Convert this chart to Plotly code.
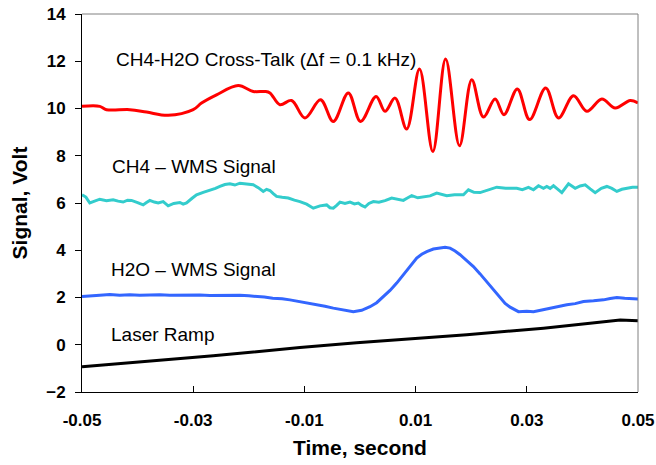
import plotly.graph_objects as go

# ---- data ----
red_x = [-0.05, -0.0468, -0.0456, -0.0414, -0.0384, -0.0345, -0.0300, -0.0285, -0.0258,
         -0.0219, -0.0192, -0.0171, -0.0162, -0.0144, -0.0123, -0.0099, -0.0071, -0.0048,
         -0.0021, 0.0001, 0.0029, 0.0045, 0.0063, 0.0084, 0.0107, 0.0131, 0.0154, 0.0179,
         0.0201, 0.0222, 0.0243, 0.0259, 0.0283, 0.0305, 0.0334, 0.0357, 0.0384, 0.0408,
         0.0435, 0.0459, 0.0486, 0.05]
red_y = [10.09, 10.09, 9.95, 9.95, 9.85, 9.71, 9.95, 10.23, 10.58,
         10.97, 10.72, 10.72, 10.66, 10.16, 10.34, 9.60, 10.37, 9.45,
         10.66, 9.45, 10.51, 9.88, 10.44, 9.13, 11.67, 8.18, 12.10, 8.42,
         11.22, 9.64, 10.40, 9.74, 10.83, 9.53, 10.87, 9.60, 10.54, 9.88,
         10.40, 10.02, 10.34, 10.23]

cyan_x = [-0.05, -0.0493, -0.0486, -0.0478, -0.0468, -0.0456, -0.0444, -0.0435, -0.0426,
          -0.0418, -0.0411, -0.0400, -0.0390, -0.0384, -0.0378, -0.0370, -0.0363, -0.0354,
          -0.0345, -0.0335, -0.0324, -0.0318, -0.0312, -0.0302, -0.0294, -0.0282, -0.0270,
          -0.0260, -0.0252, -0.0243, -0.0234, -0.0225, -0.0216, -0.0204, -0.0192, -0.0183,
          -0.0174, -0.0168, -0.0162, -0.0156, -0.0150, -0.0140, -0.0129, -0.0118, -0.0108,
          -0.0096, -0.0084, -0.0072, -0.0060, -0.0054, -0.0048, -0.0042, -0.0036, -0.0027,
          -0.0018, -0.0010, -0.0003, 0.0003, 0.0009, 0.0016, 0.0024, 0.0034, 0.0045, 0.0057,
          0.0068, 0.0078, 0.0086, 0.0093, 0.0104, 0.0114, 0.0126, 0.0138, 0.0147, 0.0156,
          0.0170, 0.0186, 0.0195, 0.0205, 0.0216, 0.0230, 0.0246, 0.0262, 0.0282, 0.0292,
          0.0303, 0.0312, 0.0321, 0.0330, 0.0336, 0.0342, 0.0348, 0.0356, 0.0363, 0.0375,
          0.0387, 0.0396, 0.0405, 0.0414, 0.0423, 0.0434, 0.0444, 0.0453, 0.0462, 0.0471,
          0.0480, 0.0490, 0.05]
cyan_y = [6.35, 6.25, 6.00, 6.08, 6.16, 6.10, 6.14, 6.08, 6.04,
          6.12, 6.11, 6.02, 5.92, 6.02, 6.11, 6.04, 6.00, 6.06,
          5.88, 5.98, 6.02, 5.95, 6.00, 6.20, 6.35, 6.45, 6.53,
          6.62, 6.70, 6.78, 6.81, 6.76, 6.84, 6.80, 6.77, 6.65,
          6.49, 6.58, 6.53, 6.40, 6.28, 6.24, 6.21, 6.12, 6.06,
          5.95, 5.78, 5.88, 5.92, 5.80, 5.78, 5.90, 6.04, 5.98,
          6.04, 5.96, 6.00, 5.90, 5.83, 5.98, 6.06, 6.03, 6.10, 6.21,
          6.15, 6.11, 6.22, 6.31, 6.22, 6.25, 6.30, 6.42, 6.35, 6.31,
          6.35, 6.35, 6.56, 6.45, 6.44, 6.55, 6.67, 6.62, 6.62, 6.56,
          6.66, 6.56, 6.73, 6.62, 6.70, 6.62, 6.73, 6.58, 6.44, 6.81,
          6.62, 6.72, 6.77, 6.60, 6.44, 6.62, 6.70, 6.62, 6.49, 6.58,
          6.62, 6.67, 6.67]

blue_x = [-0.05, -0.0484, -0.0468, -0.0450, -0.0432, -0.0414, -0.0396, -0.0378, -0.0360,
          -0.0342, -0.0324, -0.0306, -0.0288, -0.0270, -0.0252, -0.0234, -0.0216, -0.0200,
          -0.0189, -0.0172, -0.0157, -0.0140, -0.0126, -0.0108, -0.0093, -0.0078, -0.0063,
          -0.0048, -0.0030, -0.0012, 0.0003, 0.0018, 0.0030, 0.0042, 0.0054, 0.0066, 0.0075,
          0.0084, 0.0093, 0.0102, 0.0111, 0.0120, 0.0132, 0.0144, 0.0153, 0.0162, 0.0171,
          0.0180, 0.0192, 0.0204, 0.0216, 0.0228, 0.0240, 0.0252, 0.0261, 0.0270, 0.0285,
          0.0300, 0.0312, 0.0327, 0.0342, 0.0357, 0.0372, 0.0387, 0.0402, 0.0420, 0.0438,
          0.0450, 0.0462, 0.0476, 0.05]
blue_y = [2.04, 2.08, 2.10, 2.13, 2.10, 2.12, 2.09, 2.11, 2.12,
          2.09, 2.10, 2.13, 2.11, 2.08, 2.09, 2.11, 2.10, 2.07,
          2.06, 2.02, 1.97, 1.95, 1.90, 1.83, 1.77, 1.69, 1.63,
          1.55, 1.46, 1.40, 1.46, 1.61, 1.78, 2.04, 2.30, 2.61, 2.88,
          3.17, 3.45, 3.67, 3.83, 3.94, 4.05, 4.11, 4.13, 4.09, 3.97,
          3.81, 3.57, 3.31, 3.00, 2.67, 2.30, 1.97, 1.75, 1.59, 1.40,
          1.42, 1.40, 1.47, 1.55, 1.60, 1.69, 1.74, 1.83, 1.86, 1.90,
          1.96, 2.00, 1.97, 1.94]

black_x = [-0.05, -0.0400, -0.0264, -0.0108, -0.0006, 0.0192, 0.0330, 0.0468, 0.05]
black_y = [-0.93, -0.74, -0.47, -0.12, 0.08, 0.42, 0.70, 1.05, 1.02]

x_tickvals = [-0.05, -0.03, -0.01, 0.01, 0.03, 0.05]
x_ticktext = ["-0.05", "-0.03", "-0.01", "0.01", "0.03", "0.05"]
y_tickvals = [-2, 0, 2, 4, 6, 8, 10, 12, 14]

labels = ["CH4-H2O Cross-Talk (\u0394f = 0.1 kHz)", "CH4 \u2013 WMS Signal",
          "H2O \u2013 WMS Signal", "Laser Ramp"]
label_x = [-0.0443, -0.0450, -0.0452, -0.0452]
label_y = [12.07, 7.53, 3.17, 0.42]

FONT = "Liberation Sans, Arial, sans-serif"

fig = go.Figure()
fig.add_trace(go.Scatter(x=red_x, y=red_y, mode="lines",
                         line=dict(color="#ff0000", width=3, shape="spline", smoothing=1.0)))
fig.add_trace(go.Scatter(x=cyan_x, y=cyan_y, mode="lines",
                         line=dict(color="#33cccc", width=3)))
fig.add_trace(go.Scatter(x=blue_x, y=blue_y, mode="lines",
                         line=dict(color="#3366ff", width=3)))
fig.add_trace(go.Scatter(x=black_x, y=black_y, mode="lines",
                         line=dict(color="#000000", width=3)))

for t, lx, ly in zip(labels, label_x, label_y):
    fig.add_annotation(x=lx, y=ly, xref="x", yref="y", text=t, showarrow=False,
                       xanchor="left", yanchor="middle",
                       font=dict(family=FONT, size=19, color="black"))

# grey top and right frame
fig.add_shape(type="line", xref="paper", yref="paper", x0=0, x1=1, y0=1, y1=1,
              line=dict(color="#808080", width=1))
fig.add_shape(type="line", xref="paper", yref="paper", x0=1, x1=1, y0=0, y1=1,
              line=dict(color="#808080", width=1))

fig.update_layout(
    width=656, height=465,
    margin=dict(l=82, r=18, t=14, b=73),
    paper_bgcolor="white", plot_bgcolor="white",
    showlegend=False,
    font=dict(family=FONT, color="black"),
    xaxis=dict(range=[-0.05, 0.05], tickvals=x_tickvals, ticktext=x_ticktext,
               automargin=False,
               showgrid=False, zeroline=False, showline=True, linecolor="black",
               linewidth=1, ticks="inside", ticklen=6, tickcolor="black",
               ticklabelstandoff=13,
               tickfont=dict(family=FONT, size=17, color="black", weight="bold"),
               title=dict(text="<b>Time, second</b>", standoff=10,
                          font=dict(family=FONT, size=21, color="black"))),
    yaxis=dict(range=[-2, 14], tickvals=y_tickvals,
               automargin=False,
               showgrid=False, zeroline=False, showline=True, linecolor="black",
               linewidth=1, ticks="outside", ticklen=6, tickcolor="black",
               ticklabelstandoff=6,
               tickfont=dict(family=FONT, size=17, color="black", weight="bold"),
               title=dict(text="<b>Signal, Volt</b>", standoff=12,
                          font=dict(family=FONT, size=21, color="black"))),
)

fig.write_html("out.html")
